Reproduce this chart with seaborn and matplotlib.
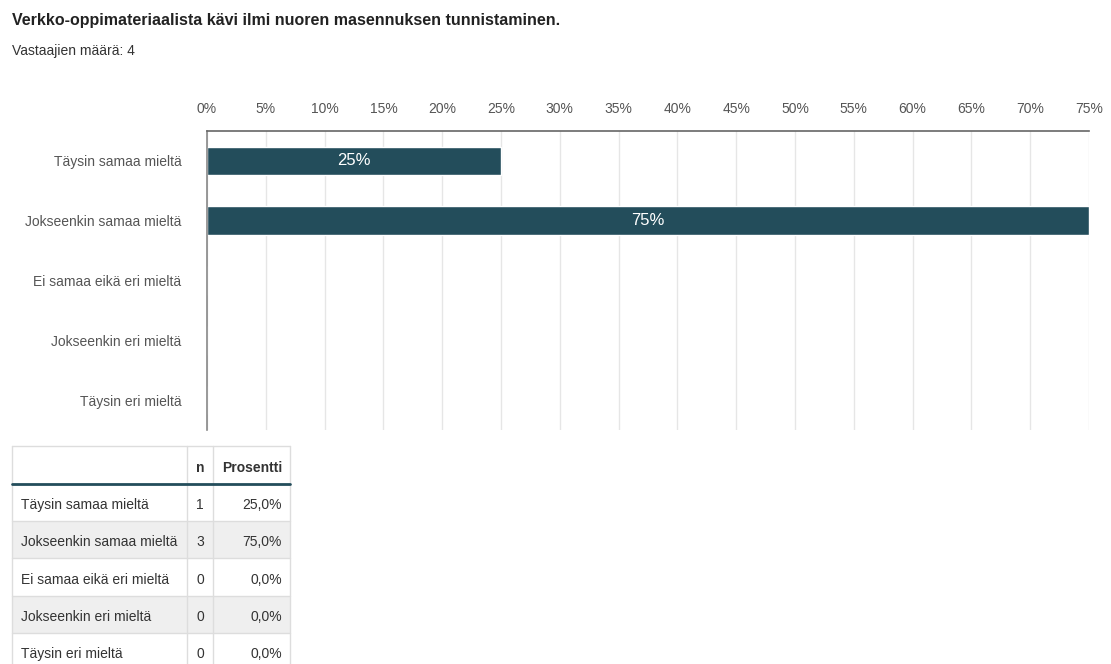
import matplotlib
matplotlib.use("Agg")
import matplotlib.pyplot as plt
import seaborn as sns
import pandas as pd
from matplotlib.patches import Rectangle
from matplotlib.lines import Line2D

categories = ["Täysin samaa mieltä", "Jokseenkin samaa mieltä", "Ei samaa eikä eri mieltä",
              "Jokseenkin eri mieltä", "Täysin eri mieltä"]
percent = [25, 75, 0, 0, 0]
counts = [1, 3, 0, 0, 0]
pct_labels = ["25,0%", "75,0%", "0,0%", "0,0%", "0,0%"]
xticks = list(range(0, 80, 5))
title = "Verkko-oppimateriaalista kävi ilmi nuoren masennuksen tunnistaminen."
subtitle = "Vastaajien määrä: 4"

sns.set_theme(style="white")
plt.rcParams['font.family'] = ['Liberation Sans', 'DejaVu Sans']

W, H = 1111, 664
fig = plt.figure(figsize=(W / 100, H / 100), dpi=100)

def fx(px):
    return px / W

def fy(py):
    return 1 - py / H

fig.text(fx(12), fy(20), title, fontsize=11.5, fontweight="bold", color="#222222", va="center", ha="left")
fig.text(fx(12), fy(51), subtitle, fontsize=10, color="#333333", va="center", ha="left")

ax = fig.add_axes([fx(207), fy(430), fx(1089) - fx(207), fy(131) - fy(430)])
df = pd.DataFrame({"cat": categories, "pct": percent})
sns.barplot(data=df, x="pct", y="cat", ax=ax, color="#234d5b", saturation=1, width=0.48, orient="h")
ax.set_xlim(0, 75)
ax.set_ylim(4.5, -0.5)
ax.set_xticks(xticks)
ax.set_xticklabels([f"{t}%" for t in xticks])
ax.xaxis.tick_top()
ax.tick_params(axis="x", length=0, pad=11, labelsize=10, labelcolor="#555555")
ax.tick_params(axis="y", length=0, pad=18.5, labelsize=10, labelcolor="#555555")
ax.set_xlabel("")
ax.set_ylabel("")
ax.grid(axis="x", color="#e6e6e6", linewidth=1)
ax.set_axisbelow(True)
for s in ["right", "bottom"]:
    ax.spines[s].set_visible(False)
ax.spines["top"].set_color("#666666")
ax.spines["left"].set_color("#888888")
ax.spines["top"].set_linewidth(1.2)
ax.spines["left"].set_linewidth(1.2)
for i, p in enumerate(percent):
    if p > 0:
        ax.text(p / 2, i, f"{p}%", color="white", fontsize=12, ha="center", va="center")

# table
tab = fig.add_axes([0, 0, 1, 1])
tab.set_xlim(0, W)
tab.set_ylim(H, 0)
tab.axis("off")
cols = [12, 187, 213, 290]
rows = [446, 484, 521, 558, 596, 633, 670]
grid_c = "#dddddd"
for r in range(5):
    if r % 2 == 1:
        tab.add_patch(Rectangle((cols[0], rows[r + 1]), cols[-1] - cols[0], rows[r + 2] - rows[r + 1],
                                facecolor="#efefef", edgecolor="none"))
for x in cols:
    tab.add_line(Line2D([x, x], [rows[0], rows[-1]], color=grid_c, lw=1))
for y in rows[:1] + rows[2:]:
    tab.add_line(Line2D([cols[0], cols[-1]], [y, y], color=grid_c, lw=1))
tab.add_line(Line2D([cols[0], cols[-1]], [rows[1], rows[1]], color="#234d5b", lw=2))
hy = (rows[0] + rows[1]) / 2 + 1
tab.text(cols[2] - 13, hy, "n", fontsize=10, fontweight="bold", color="#333333", ha="center", va="center_baseline")
tab.text(cols[3] - 8, hy, "Prosentti", fontsize=10, fontweight="bold", color="#333333", ha="right", va="center_baseline")
for r in range(5):
    cy = (rows[r + 1] + rows[r + 2]) / 2 + 1
    tab.text(cols[0] + 9, cy, categories[r], fontsize=10, color="#333333", ha="left", va="center_baseline")
    tab.text(cols[2] - 13, cy, str(counts[r]), fontsize=10, color="#333333", ha="center", va="center_baseline")
    tab.text(cols[3] - 8, cy, pct_labels[r], fontsize=10, color="#333333", ha="right", va="center_baseline")

fig.savefig("out.png", dpi=100)
